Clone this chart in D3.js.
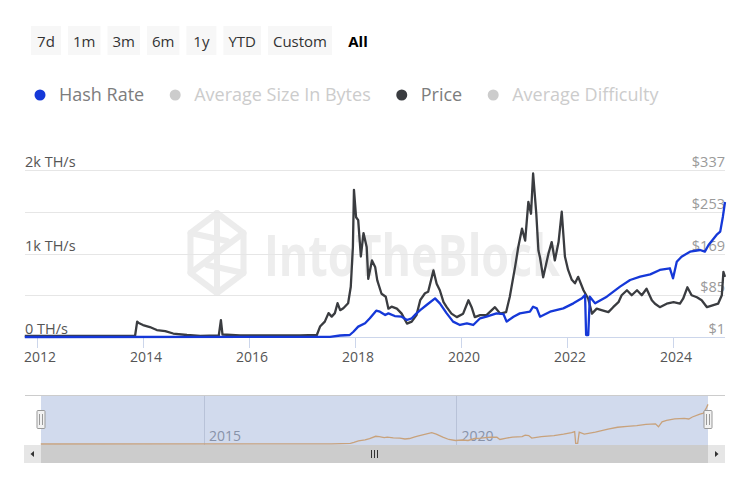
<!DOCTYPE html>
<html>
<head>
<meta charset="utf-8">
<script src="https://cdn.jsdelivr.net/npm/d3@7/dist/d3.min.js"></script>
<style>
  html, body { margin: 0; padding: 0; background: #ffffff; }
  svg { display: block; font-family: "Open Sans", "DejaVu Sans", sans-serif; }
</style>
</head>
<body>
<svg id="chart" width="751" height="500"></svg>
<script>
// ---------- DATA ----------
const rangeButtons = ["7d", "1m", "3m", "6m", "1y", "YTD", "Custom", "All"];
const legendItems = ["Hash Rate", "Average Size In Bytes", "Price", "Average Difficulty"];
const legendActive = [true, false, true, false];

const xYears = [2012, 2014, 2016, 2018, 2020, 2022, 2024];
const navYears = [2015, 2020];
const hashTicks = [0, 500, 1000, 1500, 2000];
const hashTickLabels = ["0 TH/s", "", "1k TH/s", "", "2k TH/s"];
const priceTicks = [1, 85, 169, 253, 337];
const priceTickLabels = ["$1", "$85", "$169", "$253", "$337"];

// Hash rate (TH/s) by decimal year
const hashYears = [2011.77, 2017.53, 2017.72, 2017.90, 2017.97, 2018.06, 2018.19, 2018.28, 2018.40, 2018.47,
  2018.57, 2018.63, 2018.75, 2018.88, 2018.98, 2019.07, 2019.16, 2019.23, 2019.35, 2019.51,
  2019.60, 2019.73, 2019.85, 2019.98, 2020.11, 2020.23, 2020.36, 2020.48, 2020.67, 2020.80,
  2020.86, 2020.99, 2021.11, 2021.30, 2021.36, 2021.43, 2021.49, 2021.68, 2021.93, 2022.12,
  2022.28, 2022.34, 2022.36, 2022.40, 2022.43, 2022.53, 2022.75, 2023.00, 2023.19, 2023.38,
  2023.57, 2023.75, 2023.94, 2024.00, 2024.07, 2024.16, 2024.32, 2024.51, 2024.60, 2024.67,
  2024.82, 2024.89, 2024.94, 2024.98];
const hashValues = [0, 2, 18, 24, 63, 124, 164, 224, 315, 303,
  263, 283, 251, 243, 204, 224, 283, 323, 383, 463,
  403, 283, 184, 144, 164, 144, 224, 243, 283, 275,
  184, 243, 283, 303, 363, 343, 243, 303, 343, 403,
  463, 503, 24, 24, 483, 403, 483, 603, 683, 723,
  750, 803, 823, 703, 902, 962, 1022, 1042, 1022, 1102,
  1222, 1262, 1441, 1617];

// Price (USD) by decimal year
const priceYears = [2011.77, 2013.85, 2013.89, 2013.92, 2014.00, 2014.13, 2014.26, 2014.42, 2014.57, 2014.83,
  2015.08, 2015.43, 2015.47, 2015.50, 2015.83, 2016.40, 2016.96, 2017.28, 2017.34, 2017.43,
  2017.50, 2017.56, 2017.62, 2017.67, 2017.72, 2017.78, 2017.87, 2017.92, 2017.96, 2017.98,
  2018.02, 2018.06, 2018.11, 2018.16, 2018.22, 2018.25, 2018.32, 2018.38, 2018.42, 2018.50,
  2018.58, 2018.63, 2018.69, 2018.79, 2018.88, 2018.98, 2019.07, 2019.16, 2019.23, 2019.32,
  2019.38, 2019.48, 2019.54, 2019.60, 2019.67, 2019.73, 2019.82, 2019.92, 2020.04, 2020.14,
  2020.20, 2020.26, 2020.36, 2020.48, 2020.64, 2020.74, 2020.85, 2020.92, 2021.02, 2021.08,
  2021.15, 2021.21, 2021.27, 2021.32, 2021.36, 2021.42, 2021.46, 2021.49, 2021.55, 2021.65,
  2021.71, 2021.77, 2021.84, 2021.90, 2021.96, 2022.02, 2022.09, 2022.15, 2022.21, 2022.31,
  2022.40, 2022.47, 2022.56, 2022.65, 2022.78, 2022.87, 2022.97, 2023.03, 2023.13, 2023.22,
  2023.32, 2023.41, 2023.50, 2023.60, 2023.66, 2023.75, 2023.88, 2024.01, 2024.13, 2024.19,
  2024.27, 2024.35, 2024.45, 2024.54, 2024.64, 2024.76, 2024.85, 2024.92, 2024.95, 2024.98];
const priceValues = [3, 3, 32, 29, 25, 21, 15, 13, 8, 5,
  3, 4, 35, 6, 4, 4, 4, 5, 22, 32,
  49, 42, 49, 69, 55, 59, 69, 102, 182, 297,
  242, 236, 163, 210, 182, 118, 155, 142, 115, 88,
  82, 58, 62, 58, 48, 28, 32, 45, 75, 89,
  92, 135, 108, 95, 71, 61, 48, 41, 48, 75,
  61, 41, 45, 45, 61, 48, 51, 82, 142, 182,
  219, 195, 273, 249, 330, 249, 175, 161, 121, 169,
  192, 155, 192, 253, 163, 136, 116, 109, 122, 95,
  78, 48, 58, 55, 51, 61, 71, 85, 95, 85,
  95, 85, 98, 75, 68, 61, 68, 71, 68, 78,
  101, 85, 81, 75, 61, 65, 68, 85, 132, 122];

// ---------- DRAW ----------
const svg = d3.select("#chart");

const hashData = hashYears.map((y, i) => ({ t: y, v: hashValues[i] }));
const priceData = priceYears.map((y, i) => ({ t: y, v: priceValues[i] }));

const x = d3.scaleLinear().domain([2011.774, 2024.98]).range([25, 725]);
const yHash = d3.scaleLinear().domain([0, 2000]).range([337, 170]);
const yPrice = d3.scaleLinear().domain([1, 337]).range([337, 170]);

// Range selector buttons
const btnG = svg.append("g");
let bx = 31;
rangeButtons.forEach((label, i) => {
  const isAll = label === "All";
  const g = btnG.append("g");
  const t = g.append("text")
    .attr("y", 46.5)
    .attr("font-size", 15)
    .attr("font-weight", isAll ? 700 : 400)
    .attr("fill", isAll ? "#000" : "#333")
    .attr("text-anchor", "middle")
    .text(label);
  const w = Math.max(30, t.node().getComputedTextLength() + 10);
  if (!isAll) {
    g.insert("rect", "text").attr("x", bx).attr("y", 26).attr("width", w).attr("height", 29)
      .attr("fill", "#f7f7f7");
  }
  t.attr("x", bx + w / 2 + (isAll ? 4 : 0));
  bx += w + 7;
});

// Legend
const colors = { "Hash Rate": "#1538d8", "Price": "#3a3c40" };
const legG = svg.append("g");
let lx = 40;
legendItems.forEach((label, i) => {
  const active = legendActive[i];
  legG.append("circle").attr("cx", lx).attr("cy", 95).attr("r", 5.5)
    .attr("fill", active ? colors[label] : "#cccccc");
  const t = legG.append("text").attr("x", lx + 19).attr("y", 101)
    .attr("font-size", 18)
    .attr("fill", active ? "#7d7d7d" : "#cccccc")
    .text(label);
  lx = lx + 19 + t.node().getComputedTextLength() + 31;
});

// Watermark
const wm = svg.append("g").attr("opacity", 1);
const lc = { cx: 217, cy: 253 };
const hex = d3.range(6).map(k => {
  const a = Math.PI / 6 + k * Math.PI / 3;
  return [lc.cx + 34 * Math.cos(a) * 0.9, lc.cy + 40 * Math.sin(a) * 1.0];
});
wm.append("polygon").attr("points", hex.map(p => p.join(",")).join(" "))
  .attr("fill", "none").attr("stroke", "#ececec").attr("stroke-width", 6).attr("stroke-linejoin", "round");
[[hex[4], hex[1]], [hex[5], hex[2]], [hex[3], [lc.cx + 10, lc.cy - 12]], [hex[0], [lc.cx - 10, lc.cy + 12]]].forEach(seg => {
  wm.append("line").attr("x1", seg[0][0]).attr("y1", seg[0][1]).attr("x2", seg[1][0]).attr("y2", seg[1][1])
    .attr("stroke", "#ececec").attr("stroke-width", 6).attr("stroke-linecap", "round");
});
wm.append("text").attr("x", 264).attr("y", 276)
  .attr("font-size", 58).attr("font-weight", 700).attr("fill", "#ededed")
  .attr("textLength", 296).attr("lengthAdjust", "spacingAndGlyphs")
  .text("IntoTheBlock");

// Gridlines
svg.append("g").selectAll("line").data(hashTicks.slice(1)).join("line")
  .attr("x1", 25).attr("x2", 725)
  .attr("y1", d => Math.round(yHash(d)) + 0.5).attr("y2", d => Math.round(yHash(d)) + 0.5)
  .attr("stroke", "#e6e6e6").attr("stroke-width", 1);

// Left axis labels
svg.append("g").selectAll("text").data(hashTicks).join("text")
  .attr("x", 25).attr("y", d => yHash(d) - 3)
  .attr("font-size", 14.5).attr("fill", "#555")
  .text((d, i) => hashTickLabels[i]);

// Right axis labels
svg.append("g").selectAll("text").data(priceTicks).join("text")
  .attr("x", 725).attr("y", d => yPrice(d) - 3)
  .attr("text-anchor", "end")
  .attr("font-size", 14.5).attr("fill", "#9a9a9a")
  .text((d, i) => priceTickLabels[i]);

// X axis line and ticks
const xAxisG = svg.append("g");
xAxisG.append("line").attr("x1", 25).attr("x2", 725).attr("y1", 337.5).attr("y2", 337.5)
  .attr("stroke", "#ccd6eb").attr("stroke-width", 1);
xAxisG.selectAll("line.tick").data(xYears).join("line").attr("class", "tick")
  .attr("x1", d => Math.round(x(d)) + 0.5).attr("x2", d => Math.round(x(d)) + 0.5)
  .attr("y1", 338).attr("y2", 348)
  .attr("stroke", "#ccd6eb");
xAxisG.selectAll("text").data(xYears).join("text")
  .attr("x", d => x(d) + 3).attr("y", 362)
  .attr("text-anchor", "middle").attr("font-size", 14).attr("fill", "#555")
  .text(d => d);

// Series lines
const lineHash = d3.line().x(d => x(d.t)).y(d => yHash(d.v)).curve(d3.curveLinear);
const linePrice = d3.line().x(d => x(d.t)).y(d => yPrice(d.v)).curve(d3.curveLinear);

svg.append("path").datum(priceData).attr("d", linePrice)
  .attr("fill", "none").attr("stroke", "#3a3c40").attr("stroke-width", 2.3).attr("stroke-linejoin", "round");
svg.append("path").datum(hashData).attr("d", lineHash)
  .attr("fill", "none").attr("stroke", "#1538d8").attr("stroke-width", 2.3).attr("stroke-linejoin", "round");

// Navigator
const xNav = d3.scaleLinear().domain(x.domain()).range([41, 708]);
const yNav = d3.scaleLinear().domain([0, 2000]).range([444, 395]);
const nav = svg.append("g");
nav.append("rect").attr("x", 41).attr("y", 395).attr("width", 667).attr("height", 50)
  .attr("fill", "rgba(102,133,194,0.3)");
nav.selectAll("line.grid").data(navYears).join("line").attr("class", "grid")
  .attr("x1", d => Math.round(xNav(d)) + 0.5).attr("x2", d => Math.round(xNav(d)) + 0.5)
  .attr("y1", 395).attr("y2", 445).attr("stroke", "#b8c2d8");
nav.selectAll("text").data(navYears).join("text")
  .attr("x", d => xNav(d) + 5).attr("y", 441)
  .attr("font-size", 14).attr("fill", "#8892a8")
  .text(d => d);
const lineNav = d3.line().x(d => xNav(d.t)).y(d => yNav(d.v));
nav.append("path").datum(hashData).attr("d", lineNav)
  .attr("fill", "none").attr("stroke", "#c8a27c").attr("stroke-width", 1.3);
nav.append("line").attr("x1", 25).attr("x2", 725).attr("y1", 395.5).attr("y2", 395.5)
  .attr("stroke", "#cccccc");
// handles
[41, 708].forEach(hx => {
  const h = nav.append("g").attr("transform", `translate(${hx},0)`);
  h.append("rect").attr("x", -4).attr("y", 410.5).attr("width", 8).attr("height", 18)
    .attr("rx", 1).attr("fill", "#f2f2f2").attr("stroke", "#999").attr("stroke-width", 1);
  h.append("line").attr("x1", -1.5).attr("x2", -1.5).attr("y1", 414).attr("y2", 425).attr("stroke", "#999");
  h.append("line").attr("x1", 1.5).attr("x2", 1.5).attr("y1", 414).attr("y2", 425).attr("stroke", "#999");
});

// Scrollbar
const sb = svg.append("g");
sb.append("rect").attr("x", 24).attr("y", 445).attr("width", 701).attr("height", 18).attr("fill", "#f2f2f2");
sb.append("rect").attr("x", 41).attr("y", 445).attr("width", 667).attr("height", 18).attr("fill", "#cccccc");
sb.append("rect").attr("x", 24).attr("y", 445).attr("width", 17).attr("height", 18).attr("fill", "#e6e6e6");
sb.append("rect").attr("x", 708).attr("y", 445).attr("width", 17).attr("height", 18).attr("fill", "#e6e6e6");
sb.append("path").attr("d", "M30.5,454 L34,451 L34,457 Z").attr("fill", "#333");
sb.append("path").attr("d", "M718.5,454 L715,451 L715,457 Z").attr("fill", "#333");
[-3, 0, 3].forEach(dx => {
  sb.append("line").attr("x1", 374.5 + dx).attr("x2", 374.5 + dx).attr("y1", 450).attr("y2", 458)
    .attr("stroke", "#333").attr("stroke-width", 1);
});
</script>
</body>
</html>
